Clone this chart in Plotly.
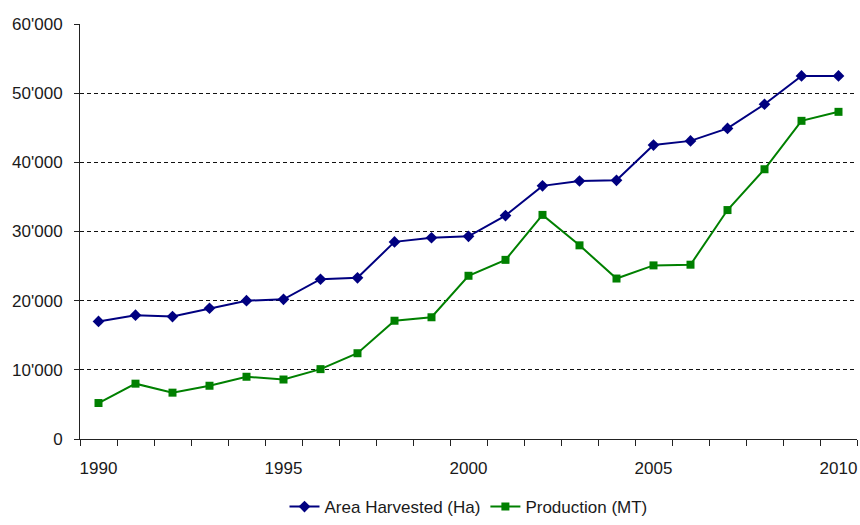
import plotly.graph_objects as go

# Annual series, 1990-2010
years = list(range(1990, 2011))
area_harvested_ha = [17000, 17900, 17700, 18900, 20000, 20200, 23100, 23300, 28500, 29100,
                     29300, 32300, 36600, 37300, 37400, 42500, 43100, 44900, 48400, 52500, 52500]
production_mt = [5200, 8000, 6700, 7700, 9000, 8600, 10100, 12400, 17100, 17600,
                 23600, 25900, 32400, 28000, 23200, 25100, 25200, 33100, 39000, 46000, 47300]

year_labels = [1990, 1995, 2000, 2005, 2010]
y_ticks = [0, 10000, 20000, 30000, 40000, 50000, 60000]

NAVY = "#000080"
GREEN = "#008000"
TEXT = "#1a1a1a"
FONT = "Liberation Sans, Arial, sans-serif"

fig = go.Figure()
fig.add_trace(go.Scatter(
    x=years, y=area_harvested_ha, name="Area Harvested (Ha)",
    mode="lines+markers",
    line=dict(color=NAVY, width=2),
    marker=dict(symbol="diamond", size=9, color=NAVY),
))
fig.add_trace(go.Scatter(
    x=years, y=production_mt, name="Production (MT)",
    mode="lines+markers",
    line=dict(color=GREEN, width=2),
    marker=dict(symbol="square", size=8, color=GREEN),
))

fig.update_layout(
    width=860, height=525,
    margin=dict(l=80, r=3, t=24, b=86, autoexpand=False),
    paper_bgcolor="white", plot_bgcolor="white",
    font=dict(family=FONT, size=17, color=TEXT),
    separators=".'",
    showlegend=True,
    legend=dict(orientation="h", x=0.5, xanchor="center",
                yref="container", y=0.0, yanchor="bottom",
                font=dict(family=FONT, size=17, color=TEXT), bgcolor="rgba(0,0,0,0)"),
)

fig.update_xaxes(
    range=[1989.5, 2010.5], automargin=False,
    tickmode="array", tickvals=year_labels, ticktext=[str(v) for v in year_labels],
    ticks="outside", ticklen=14, tickcolor="rgba(0,0,0,0)",
    minor=dict(ticks="outside", tick0=1989.5, dtick=1, ticklen=6, tickcolor="#222222", tickwidth=1,
               showgrid=False),
    showgrid=False, zeroline=False,
    showline=True, linecolor="#222222", linewidth=1,
)
fig.update_yaxes(
    range=[0, 60000], automargin=False,
    tickmode="array", tickvals=y_ticks, tickformat=",d",
    ticks="outside", ticklen=5, tickcolor="#222222", tickwidth=1,
    ticklabelstandoff=8,
    showgrid=True, gridcolor="#111111", gridwidth=1, griddash="4px,3px",
    zeroline=False,
    showline=True, linecolor="#222222", linewidth=1,
)

fig.write_html("out.html")
